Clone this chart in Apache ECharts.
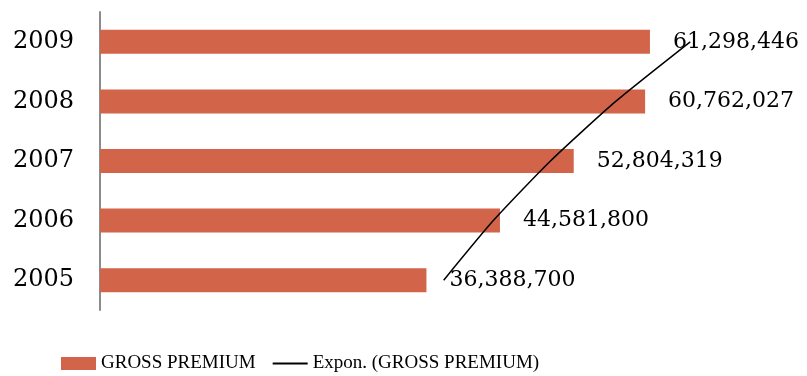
<!DOCTYPE html>
<html>
<head>
<meta charset="utf-8">
<script src="https://cdn.jsdelivr.net/npm/echarts@6/dist/echarts.min.js"></script>
<style>html,body{margin:0;padding:0;background:#fff}#c{width:807px;height:376px}</style>
</head>
<body>
<div id="c"></div>
<script>
const years = ['2005', '2006', '2007', '2008', '2009'];
const grossPremium = [36388700, 44581800, 52804319, 60762027, 61298446];
// exponential trendline values at each category
const exponTrend = [38310000, 43840000, 50210000, 57480000, 65790000];
const barName = 'GROSS PREMIUM';
const trendName = 'Expon. (GROSS PREMIUM)';

const chart = echarts.init(document.getElementById('c'), null, {renderer: 'canvas'});
chart.setOption({
  animation: false,
  backgroundColor: '#fff',
  grid: {left: 100, top: 12, width: 628, height: 298},
  xAxis: {type: 'value', min: 0, max: 70000000, show: false},
  yAxis: {
    type: 'category', data: years,
    axisLine: {show: true, lineStyle: {color: '#8c8c8c', width: 2}},
    axisTick: {show: false},
    axisLabel: {fontFamily: 'DejaVu Serif', fontSize: 24, color: '#000', margin: 26}
  },
  legend: {
    left: 56, top: 349, itemGap: 16, itemWidth: 35, itemHeight: 13,
    textStyle: {fontFamily: 'Liberation Serif', fontSize: 19, color: '#000'},
    data: [{name: barName, icon: 'rect'}, {name: trendName, itemStyle: {opacity: 0}}]
  },
  series: [
    {
      name: barName, type: 'bar', data: grossPremium, barWidth: 24,
      itemStyle: {color: '#D2644A'},
      label: {
        show: true, position: 'right', distance: 23,
        fontFamily: 'DejaVu Serif', fontSize: 22, color: '#000',
        formatter: p => p.value.toLocaleString('en-US')
      }
    },
    {
      name: trendName, type: 'line', symbol: 'none', smooth: 0.2, z: 5,
      data: exponTrend.map((v, i) => [v, years[i]]),
      itemStyle: {color: '#000'},
      lineStyle: {color: '#000', width: 1.5}
    }
  ]
});
</script>
</body>
</html>
